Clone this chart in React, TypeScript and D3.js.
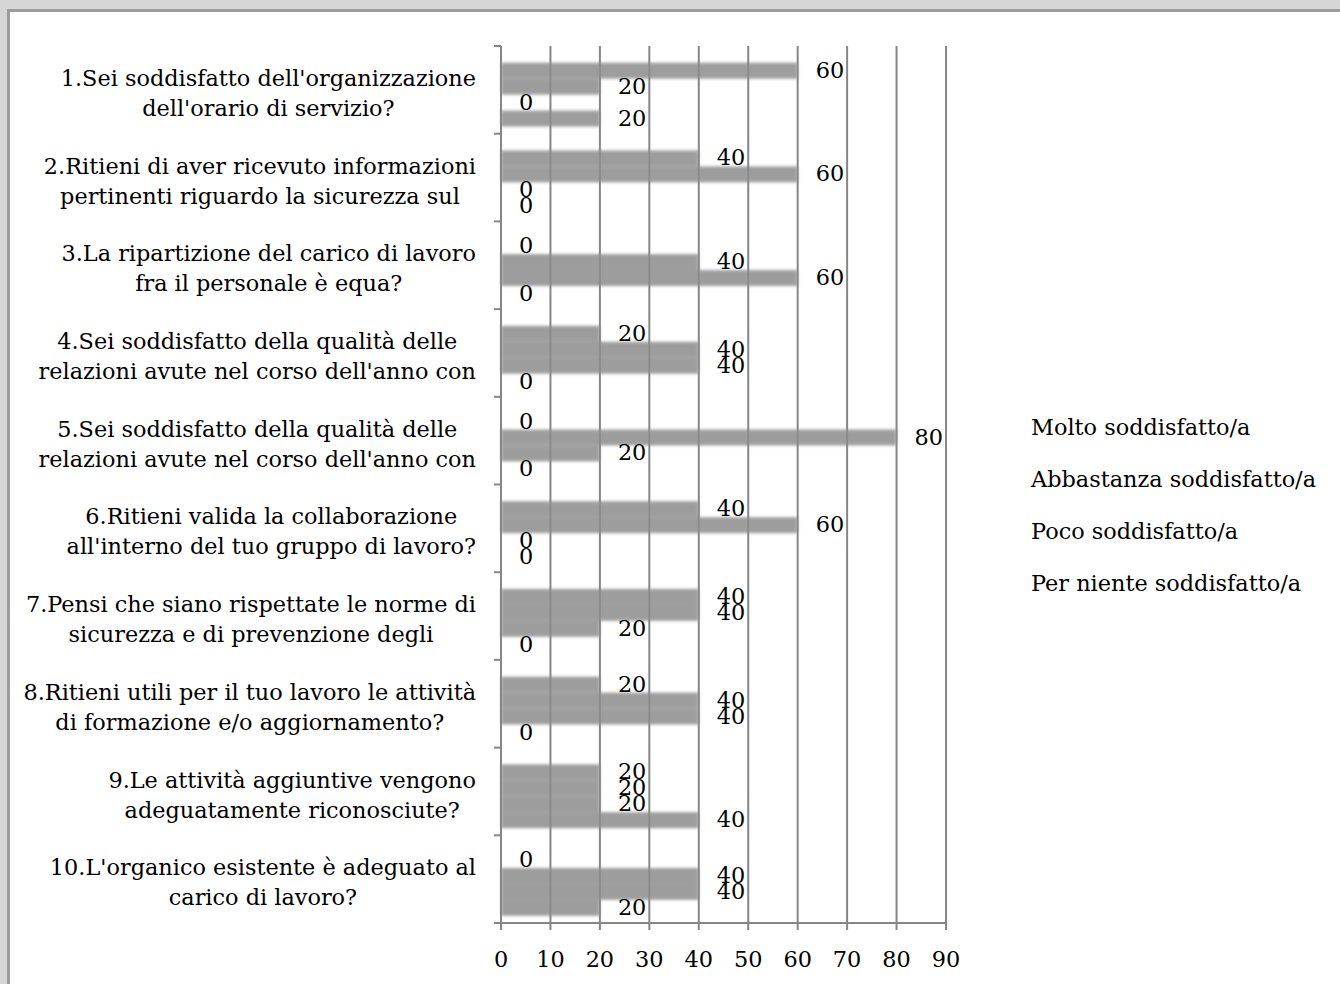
import React, { useRef, useEffect } from 'react';
import * as d3 from 'd3';

// categories (two text lines each, as they appear truncated in the chart)
const categories = [
  ["1.Sei soddisfatto dell'organizzazione", "dell'orario di servizio?"],
  ['2.Ritieni di aver ricevuto informazioni', 'pertinenti riguardo la sicurezza sul'],
  ['3.La ripartizione del carico di lavoro', 'fra il personale è equa?'],
  ['4.Sei soddisfatto della qualità delle', "relazioni avute nel corso dell'anno con"],
  ['5.Sei soddisfatto della qualità delle', "relazioni avute nel corso dell'anno con"],
  ['6.Ritieni valida la collaborazione', "all'interno del tuo gruppo di lavoro?"],
  ['7.Pensi che siano rispettate le norme di', 'sicurezza e di prevenzione degli'],
  ['8.Ritieni utili per il tuo lavoro le attività', 'di formazione e/o aggiornamento?'],
  ['9.Le attività aggiuntive vengono', 'adeguatamente riconosciute?'],
  ["10.L'organico esistente è adeguato al", 'carico di lavoro?'],
];

const series = [
  'Molto soddisfatto/a',
  'Abbastanza soddisfatto/a',
  'Poco soddisfatto/a',
  'Per niente soddisfatto/a',
];

const molto = [60, 40, 0, 20, 0, 40, 40, 20, 20, 0];
const abbastanza = [20, 60, 40, 40, 80, 60, 40, 40, 20, 40];
const poco = [0, 0, 60, 40, 20, 0, 20, 40, 20, 40];
const perNiente = [20, 0, 0, 0, 0, 0, 0, 0, 40, 20];

const xTicks = [0, 10, 20, 30, 40, 50, 60, 70, 80, 90];

const FONT = "'DejaVu Serif', serif";
const FS = 22.4;

const Chart = () => {
  const ref = useRef<SVGSVGElement | null>(null);

  useEffect(() => {
    if (!ref.current) return;
    const svg = d3.select(ref.current);
    svg.selectAll('*').remove();

    const W = 1340;
    const H = 984;
    const values = [molto, abbastanza, poco, perNiente];
    const rows = categories.map((c, i) => ({
      idx: i,
      vals: series.map((s, j) => ({ s, v: values[j][i] })),
    }));

    // frame
    const defs = svg.append('defs');
    defs.append('filter')
      .attr('id', 'soft')
      .attr('x', '-5%').attr('y', '-50%')
      .attr('width', '110%').attr('height', '200%')
      .append('feGaussianBlur')
      .attr('stdDeviation', 1.6);

    svg.append('rect').attr('width', W).attr('height', H).attr('fill', '#d6d6d6');
    svg.append('rect').attr('x', 7).attr('y', 9).attr('width', W).attr('height', H).attr('fill', '#9c9c9c');
    svg.append('rect').attr('x', 10).attr('y', 12).attr('width', W).attr('height', H).attr('fill', '#ffffff');

    const x = d3.scaleLinear().domain([0, 90]).range([501, 946]);
    const y = d3.scaleBand<number>()
      .domain(d3.range(categories.length))
      .range([46, 923]);
    const ySub = d3.scaleBand<string>()
      .domain(series)
      .range([0, y.bandwidth()])
      .paddingInner(0)
      .paddingOuter(0.75)
      .align(0.7);

    // gridlines
    svg.append('g')
      .selectAll('line')
      .data(xTicks.slice(1))
      .join('line')
      .attr('x1', d => x(d))
      .attr('x2', d => x(d))
      .attr('y1', 46)
      .attr('y2', 923)
      .attr('stroke', '#868686')
      .attr('stroke-width', 2);

    // bars
    const g = svg.append('g').attr('filter', 'url(#soft)');
    rows.forEach(r => {
      g.selectAll(null)
        .data(r.vals.filter(d => d.v > 0))
        .join('rect')
        .attr('x', x(0))
        .attr('y', d => (y(r.idx) as number) + (ySub(d.s) as number))
        .attr('width', d => x(d.v) - x(0))
        .attr('height', ySub.bandwidth())
        .attr('fill', '#8c8c8c')
        .attr('fill-opacity', 0.85);
    });

    // axes
    const ax = svg.append('g').attr('stroke', '#868686').attr('stroke-width', 2);
    ax.append('line').attr('x1', x(0)).attr('x2', x(0)).attr('y1', 46).attr('y2', 924);
    ax.append('line').attr('x1', 494).attr('x2', x(90) + 1).attr('y1', 923).attr('y2', 923);
    ax.selectAll('.ct')
      .data(d3.range(categories.length))
      .join('line')
      .attr('x1', 494).attr('x2', x(0))
      .attr('y1', d => y(d) as number)
      .attr('y2', d => y(d) as number);
    ax.selectAll('.xt')
      .data(xTicks)
      .join('line')
      .attr('x1', d => x(d)).attr('x2', d => x(d))
      .attr('y1', 923).attr('y2', 930);

    svg.append('g')
      .selectAll('text')
      .data(xTicks)
      .join('text')
      .attr('x', d => x(d))
      .attr('y', 967)
      .attr('text-anchor', 'middle')
      .attr('font-family', FONT)
      .attr('font-size', FS)
      .attr('fill', '#000')
      .text(d => d);

    // data labels
    const lg = svg.append('g')
      .attr('font-family', FONT)
      .attr('font-size', FS)
      .attr('fill', '#000');
    rows.forEach(r => {
      lg.selectAll(null)
        .data(r.vals)
        .join('text')
        .attr('x', d => x(d.v) + 18)
        .attr('y', d => (y(r.idx) as number) + (ySub(d.s) as number) + ySub.bandwidth() / 2 - 1)
        .attr('dy', '0.36em')
        .text(d => d.v);
    });

    // category labels: each block centred, block right edge at 476
    const cg = svg.append('g')
      .attr('font-family', FONT)
      .attr('font-size', FS)
      .attr('fill', '#000');
    categories.forEach((lines, i) => {
      const cy = (y(i) as number) + y.bandwidth() / 2 + 3;
      const t = cg.selectAll(null)
        .data(lines)
        .join('text')
        .attr('y', (d, k) => cy + (k - 0.5) * 30)
        .attr('dy', '0.36em')
        .attr('text-anchor', 'middle')
        .text(d => d);
      let maxW = 0;
      t.each(function () {
        maxW = Math.max(maxW, (this as SVGTextElement).getComputedTextLength());
      });
      t.attr('x', 476 - maxW / 2);
    });

    // legend (text only)
    svg.append('g')
      .selectAll('text')
      .data(series)
      .join('text')
      .attr('x', 1031)
      .attr('y', (d, i) => 427 + i * 52)
      .attr('dy', '0.36em')
      .attr('font-family', FONT)
      .attr('font-size', FS)
      .attr('fill', '#000')
      .text(d => d);
  }, []);

  return <svg ref={ref} width={1340} height={984} style={{ display: 'block' }} />;
};

export default function App() {
  return (
    <div style={{ position: 'fixed', left: 0, top: 0 }}>
      <Chart />
    </div>
  );
}
